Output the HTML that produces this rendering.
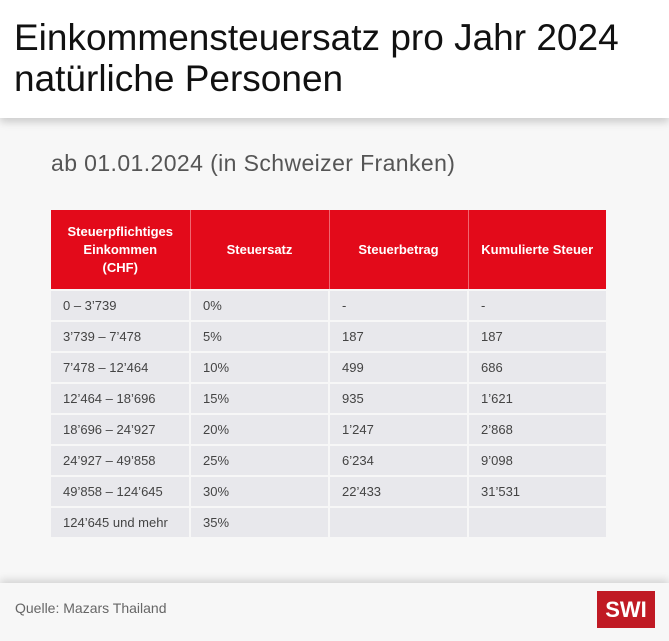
<!DOCTYPE html>
<html><head><meta charset="utf-8"><style>
*{margin:0;padding:0;box-sizing:border-box}
body{width:669px;height:641px;background:#f7f7f7;font-family:"Liberation Sans",sans-serif;position:relative;overflow:hidden}
.top{position:absolute;left:0;top:0;width:669px;height:118px;background:#fff;box-shadow:0 4px 8px rgba(0,0,0,0.18)}
.title{position:absolute;left:14px;top:17px;font-size:37px;line-height:41px;color:#111;letter-spacing:0px}
.sub{position:absolute;left:51px;top:150px;font-size:23px;color:#555;letter-spacing:0.4px}
table{position:absolute;left:51px;top:210px;width:555px;border-collapse:collapse;table-layout:fixed}
th{background:#e30a1a;color:#fff;font-size:13px;font-weight:bold;height:80px;line-height:18px;text-align:center;border-right:1px solid #f06670}
th:last-child{border-right:none}
td{background:#e8e8ec;height:31px;font-size:13px;color:#444;padding-left:12px;border:2px solid #f7f7f7;border-left:none}
td:first-child{border-left:none}
td:last-child{border-right:none}
.foot{position:absolute;left:0;top:583px;width:669px;height:58px;background:#f7f7f7;box-shadow:0 -3px 8px rgba(0,0,0,0.15)}
.src{position:absolute;left:15px;top:600px;font-size:14px;color:#666}
.logo{position:absolute;left:597px;top:591px;width:58px;height:37px;background:#c01a24;color:#fff;font-weight:bold;font-size:22px;text-align:center;line-height:37px}
</style></head><body>
<div class="top"><div class="title">Einkommensteuersatz pro Jahr 2024<br>natürliche Personen</div></div>
<div class="sub">ab 01.01.2024 (in Schweizer Franken)</div>
<table>
<colgroup><col style="width:139px"><col style="width:139px"><col style="width:139px"><col style="width:138px"></colgroup>
<tr><th>Steuerpflichtiges<br>Einkommen<br>(CHF)</th><th>Steuersatz</th><th>Steuerbetrag</th><th>Kumulierte Steuer</th></tr>
<tr><td>0 – 3’739</td><td>0%</td><td>-</td><td>-</td></tr>
<tr><td>3’739 – 7’478</td><td>5%</td><td>187</td><td>187</td></tr>
<tr><td>7’478 – 12’464</td><td>10%</td><td>499</td><td>686</td></tr>
<tr><td>12’464 – 18’696</td><td>15%</td><td>935</td><td>1’621</td></tr>
<tr><td>18’696 – 24’927</td><td>20%</td><td>1’247</td><td>2’868</td></tr>
<tr><td>24’927 – 49’858</td><td>25%</td><td>6’234</td><td>9’098</td></tr>
<tr><td>49’858 – 124’645</td><td>30%</td><td>22’433</td><td>31’531</td></tr>
<tr><td>124’645 und mehr</td><td>35%</td><td></td><td></td></tr>
</table>
<div class="foot"></div>
<div class="src">Quelle: Mazars Thailand</div>
<div class="logo">SWI</div>
</body></html>
